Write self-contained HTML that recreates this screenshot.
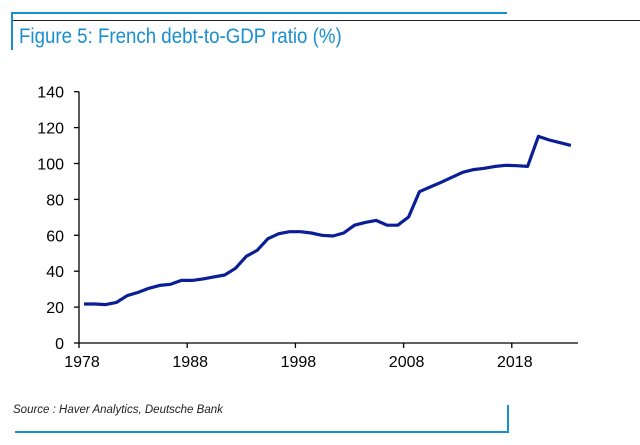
<!DOCTYPE html>
<html><head><meta charset="utf-8"><style>
body{margin:0;width:640px;height:445px;background:#fff;overflow:hidden;font-family:"Liberation Sans",sans-serif;position:relative}
.a{position:absolute}
</style></head><body>
<div class="a" style="left:12px;top:12px;width:495px;height:2px;background:#1a8fd0"></div>
<div class="a" style="left:12px;top:20px;width:628px;height:1px;background:#222"></div>
<div class="a" style="left:11px;top:12px;width:2px;height:38px;background:#1a8fd0"></div>
<div class="a" style="left:19px;top:25px;font-size:21px;color:#1a8fd0;transform:scaleX(0.89);transform-origin:0 0;white-space:nowrap">Figure 5: French debt-to-GDP ratio (%)</div>
<svg class="a" style="left:0;top:0" width="640" height="445">
<g id="ax"></g><path id="ln" fill="none" stroke="#0a1f96" stroke-width="3.2" stroke-linejoin="round"/>
</svg>
<div class="a" style="left:13px;top:404px;font-size:11.5px;font-style:italic;color:#222">Source : Haver Analytics, Deutsche Bank</div>
<div class="a" style="left:15px;top:431px;width:494px;height:2px;background:#1a8fd0"></div>
<div class="a" style="left:507px;top:405px;width:2px;height:28px;background:#1a8fd0"></div>
<script>
const years=[1978,1979,1980,1981,1982,1983,1984,1985,1986,1987,1988,1989,1990,1991,1992,1993,1994,1995,1996,1997,1998,1999,2000,2001,2002,2003,2004,2005,2006,2007,2008,2009,2010,2011,2012,2013,2014,2015,2016,2017,2018,2019,2020,2021,2022,2023];
const debt=[21.7,21.7,21.4,22.6,26.4,28.2,30.5,32.1,32.7,34.9,34.9,35.7,36.8,37.9,41.6,48.3,51.6,58.1,60.9,62.0,62.0,61.3,60.0,59.6,61.3,65.6,67.2,68.3,65.6,65.6,70.2,84.3,86.9,89.5,92.3,95.1,96.6,97.3,98.4,99.0,98.8,98.4,115.1,113.1,111.6,110.1];
const yTicks=[0,20,40,60,80,100,120,140];
const xTicks=[1978,1988,1998,2008,2018];
const X=y=>79+(y-1978)*10.82, Y=v=>343-v*1.795;
const ns="http://www.w3.org/2000/svg", ax=document.getElementById('ax');
function el(t,a){const e=document.createElementNS(ns,t);for(const k in a)e.setAttribute(k,a[k]);ax.appendChild(e);return e;}
let e=el('line',{x1:79,y1:Y(140),x2:79,y2:Y(0),stroke:'#000','stroke-width':1.3});


e=el('line',{x1:79,y1:Y(0),x2:578,y2:Y(0),stroke:'#000','stroke-width':1.3});


yTicks.forEach(v=>{
 el('line',{x1:74,x2:79,y1:Y(v),y2:Y(v),stroke:'#000','stroke-width':1.3});
 const t=el('text',{x:64,y:Y(v)+6,'text-anchor':'end','font-size':16,fill:'#000'});t.textContent=v;
 
 
});
xTicks.forEach(v=>{
 el('line',{x1:X(v),x2:X(v),y1:Y(0),y2:Y(0)+5,stroke:'#000','stroke-width':1.3});
 const t=el('text',{x:X(v)+3,y:Y(0)+24,'text-anchor':'middle','font-size':16,fill:'#000'});t.textContent=v;
 
 
});
document.getElementById('ln').setAttribute('d',years.map((y,i)=>(i?'L':'M')+(X(y)+5).toFixed(1)+','+Y(debt[i]).toFixed(1)).join(''));
</script>
</body></html>
